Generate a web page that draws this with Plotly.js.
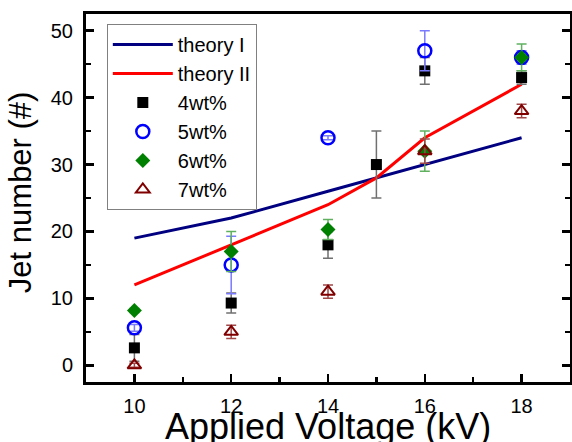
<!DOCTYPE html>
<html>
<head>
<meta charset="utf-8">
<script src="https://cdn.plot.ly/plotly-3.0.1.min.js"></script>
<style>html,body{margin:0;padding:0;background:#fff;}#chart{width:572px;height:442px;}</style>
</head>
<body>
<div id="chart"></div>
<script>
// Theory curves
const theoryX = [10, 12, 14, 15, 16, 18];
const theoryI = [19, 22, 26, 28, 30, 34];
const theoryII = [12, 18, 24, 28, 34, 42];

// Measurements
const x4 = [10, 12, 14, 15, 16, 18];
const y4 = [2.6, 9.3, 18, 30, 44, 43];
const e4 = [2, 1.5, 2, 5, 2, 1];

const x5 = [10, 12, 14, 16, 18];
const y5 = [5.6, 15, 34, 47, 46];
const e5 = [0.5, 4.3, 0.3, 3, 1];

const x6 = [10, 12, 14, 16, 18];
const y6 = [8.2, 17, 20.3, 32, 46];
const e6 = [0.3, 3, 1.5, 3, 2];

const x7 = [10, 12, 14, 16, 18];
const y7 = [0, 5, 11, 32, 38];
const e7 = [0.3, 1, 1, 1.8, 1];

const xTicks = [10, 12, 14, 16, 18];
const yTicks = [0, 10, 20, 30, 40, 50];

const xTitle = 'Applied Voltage (kV)';
const yTitle = 'Jet number (#)';

const FONT = 'Arial, "Liberation Sans", sans-serif';

function errBar(arr, color) {
  return {type: 'data', array: arr, visible: true, color: color, thickness: 1.5, width: 5};
}

const traces = [
  {x: theoryX, y: theoryI, name: 'theory I', mode: 'lines', line: {color: '#000080', width: 3}},
  {x: theoryX, y: theoryII, name: 'theory II', mode: 'lines', line: {color: '#FF0000', width: 3}},
  {x: x4, y: y4, name: '4wt%', mode: 'markers', error_y: errBar(e4, '#707070'),
   marker: {symbol: 'square', size: 11, color: '#000000'}},
  {x: x5, y: y5, name: '5wt%', mode: 'markers', error_y: errBar(e5, '#7a7aff'),
   marker: {symbol: 'circle-open', size: 13, color: '#0000FF', line: {width: 2.5, color: '#0000FF'}}},
  {x: x6, y: y6, name: '6wt%', mode: 'markers', error_y: errBar(e6, '#5fb05f'),
   marker: {symbol: 'diamond', size: 11.5, color: '#008000'}},
  {x: x7, y: y7, name: '7wt%', mode: 'markers', error_y: errBar(e7, '#a04848'),
   marker: {symbol: 'triangle-up-open', size: 12, color: '#800000', line: {width: 2, color: '#800000'}}}
];

const layout = {
  width: 572, height: 442,
  margin: {l: 86, r: 2, t: 14, b: 60},
  paper_bgcolor: '#fff', plot_bgcolor: '#fff',
  font: {family: FONT, color: '#000', size: 20},
  showlegend: true,
  legend: {
    x: 0.043, y: 0.973, xanchor: 'left', yanchor: 'top',
    bgcolor: '#fff', bordercolor: '#808080', borderwidth: 1,
    font: {family: FONT, size: 20, color: '#000'},
    tracegroupgap: 0, itemwidth: 60
  },
  xaxis: {
    range: [9, 19], tickvals: xTicks, ticktext: xTicks.map(String),
    ticks: 'inside', ticklen: 8, tickwidth: 2.5, tickcolor: '#000',
    minor: {dtick: 1, tick0: 0, ticks: 'inside', ticklen: 5, tickwidth: 2.5, tickcolor: '#000'},
    showline: true, linewidth: 3, linecolor: '#000', mirror: true,
    showgrid: false, zeroline: false,
    ticklabelstandoff: 4,
    tickfont: {family: FONT, size: 20}
  },
  yaxis: {
    range: [-2.5, 52.5], tickvals: yTicks, ticktext: yTicks.map(String),
    ticks: 'inside', ticklen: 8, tickwidth: 2.5, tickcolor: '#000',
    minor: {dtick: 5, tick0: 0, ticks: 'inside', ticklen: 5, tickwidth: 2.5, tickcolor: '#000'},
    showline: true, linewidth: 3, linecolor: '#000', mirror: 'ticks',
    showgrid: false, zeroline: false,
    ticklabelstandoff: 6,
    tickfont: {family: FONT, size: 20}
  },
  annotations: [
    {text: xTitle, xref: 'paper', yref: 'paper', x: 0.5, y: -0.12,
     xanchor: 'center', yanchor: 'middle', showarrow: false,
     font: {family: FONT, size: 36, color: '#000'}},
    {text: yTitle, xref: 'paper', yref: 'paper', x: -0.135, y: 0.515,
     xanchor: 'center', yanchor: 'middle', showarrow: false, textangle: -90,
     font: {family: FONT, size: 31, color: '#000'}}
  ]
};

Plotly.newPlot('chart', traces, layout, {staticPlot: true, displayModeBar: false});
</script>
</body>
</html>
